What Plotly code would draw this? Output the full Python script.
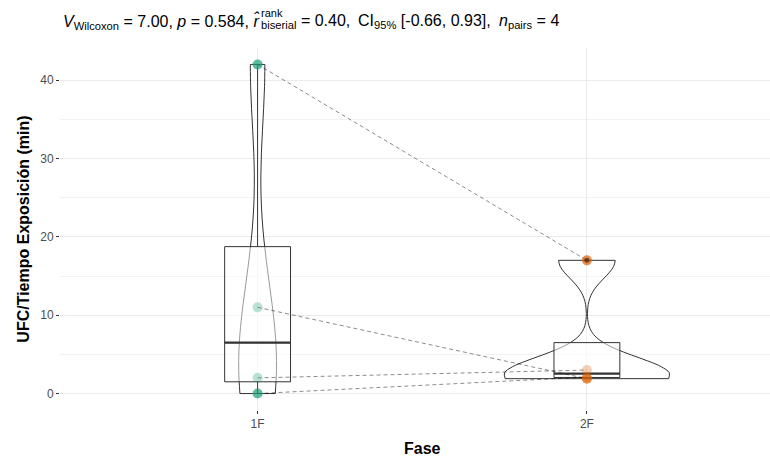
import numpy as np
import plotly.graph_objects as go

# ---- data ----
phases = ["1F", "2F"]
ufc_1f = [42.0, 11.0, 2.0, 0.0]
ufc_2f = [17.0, 1.9, 3.0, 2.1]
y_ticks = [0, 10, 20, 30, 40]
colors = ["#1B9E77", "#D95F02"]

groups = [ufc_1f, ufc_2f]
xpos = [1, 2]
LINE = "#333333"
PANEL_L, PANEL_T, PANEL_R, PANEL_B = 60, 48, 770, 410


def nrd0(v):
    v = np.asarray(v)
    q1, q3 = np.percentile(v, [25, 75])
    lo = min(np.std(v, ddof=1), (q3 - q1) / 1.34)
    return 0.9 * lo * len(v) ** (-0.2)


def kde_max(v, bw):
    v = np.asarray(v)
    g = np.linspace(v.min(), v.max(), 512)
    d = np.exp(-0.5 * ((g[:, None] - v[None, :]) / bw) ** 2).sum(1)
    return (d / (len(v) * bw * np.sqrt(2 * np.pi))).max()


def box_stats(v):
    v = np.asarray(v)
    q1, med, q3 = np.percentile(v, [25, 50, 75])
    iqr = q3 - q1
    inside = v[(v >= q1 - 1.5 * iqr) & (v <= q3 + 1.5 * iqr)]
    lf = min(q1, inside.min())
    uf = max(q3, inside.max())
    out = v[(v < q1 - 1.5 * iqr) | (v > q3 + 1.5 * iqr)]
    return q1, med, q3, lf, uf, out


# violin widths scaled by area (like ggplot scale="area")
bws = [nrd0(v) for v in groups]
kmax = [kde_max(v, b) for v, b in zip(groups, bws)]
vwidths = [0.5 * k / max(kmax) for k in kmax]

fig = go.Figure()

# boxes
for x, vals in zip(xpos, groups):
    q1, med, q3, lf, uf, out = box_stats(vals)
    fig.add_trace(go.Box(
        x=[x], q1=[q1], median=[med], q3=[q3], lowerfence=[lf], upperfence=[uf],
        width=0.2, whiskerwidth=0, boxpoints=False,
        fillcolor="rgba(255,255,255,0.5)", line=dict(color=LINE, width=1),
        showlegend=False, hoverinfo="skip"))

# violins
for i, (x, vals) in enumerate(zip(xpos, groups)):
    fig.add_trace(go.Violin(
        x=[x] * len(vals), y=vals, width=vwidths[i], bandwidth=bws[i],
        spanmode="hard", scalemode="width", scalegroup="g%d" % i,
        points=False, box_visible=False, meanline_visible=False,
        fillcolor="rgba(255,255,255,0.2)", line=dict(color=LINE, width=1),
        showlegend=False, hoverinfo="skip"))

# thick median lines
for x, vals in zip(xpos, groups):
    med = float(np.median(vals))
    fig.add_trace(go.Scatter(
        x=[x - 0.1, x + 0.1], y=[med, med], mode="lines",
        line=dict(color=LINE, width=2.2), showlegend=False, hoverinfo="skip"))

# paired dashed paths
for a, b in zip(ufc_1f, ufc_2f):
    fig.add_trace(go.Scatter(
        x=xpos, y=[a, b], mode="lines",
        line=dict(color="rgba(0,0,0,0.5)", width=0.9, dash="4px,3px"),
        showlegend=False, hoverinfo="skip"))

# points (lighter where the semi-transparent box covers them)
for x, vals, c in zip(xpos, groups, colors):
    q1, med, q3, lf, uf, out = box_stats(vals)
    op = [0.3 if q1 <= v <= q3 else 0.7 for v in vals]
    fig.add_trace(go.Scatter(
        x=[x] * len(vals), y=vals, mode="markers",
        marker=dict(color=c, size=10, opacity=op, line=dict(width=0)),
        showlegend=False, hoverinfo="skip"))
    if len(out):
        fig.add_trace(go.Scatter(
            x=[x] * len(out), y=out, mode="markers",
            marker=dict(color="rgba(0,0,0,0.5)", size=5),
            showlegend=False, hoverinfo="skip"))

title_a = "<i>V</i><sub>Wilcoxon</sub> = 7.00, <i>p</i> = 0.584, <i>r\u0302</i>"
title_b1 = "<sub>biserial</sub> = 0.40,"
title_b2 = "CI<sub>95%</sub> [-0.66, 0.93],"
title_b3 = "<i>n</i><sub>pairs</sub> = 4"
title_sup = "rank"


def px_ann(text, px, py, size, xanchor="left", yanchor="middle"):
    return dict(text=text, xref="paper", yref="paper", x=0, y=1,
                xshift=px - PANEL_L, yshift=PANEL_T - py,
                xanchor=xanchor, yanchor=yanchor, showarrow=False,
                font=dict(size=size, color="black"))


fig.update_layout(
    width=770, height=456,
    margin=dict(l=PANEL_L, r=770 - PANEL_R, t=PANEL_T, b=456 - PANEL_B),
    paper_bgcolor="white", plot_bgcolor="white",
    font=dict(family="Liberation Sans, Arial, sans-serif", color="#4D4D4D", size=12),
    xaxis=dict(range=[0.4, 2.556], tickvals=xpos, ticktext=phases,
               showgrid=True, gridcolor="#EBEBEB", gridwidth=1, zeroline=False,
               ticks="outside", ticklen=3, tickcolor=LINE, tickfont=dict(size=12, color="#4D4D4D"),
               showline=False),
    yaxis=dict(range=[-2.1, 44.1], tickvals=y_ticks,
               showgrid=True, gridcolor="#EBEBEB", gridwidth=1, zeroline=False,
               minor=dict(dtick=5, tick0=5, showgrid=True, gridcolor="#F2F2F2", gridwidth=1),
               ticks="outside", ticklen=3, tickcolor=LINE, tickfont=dict(size=12, color="#4D4D4D"),
               title=dict(text="<b>UFC/Tiempo Exposición (min)</b>", font=dict(size=16, color="black"),
                          standoff=6),
               showline=False),
    annotations=[
        px_ann(title_a, 61, 21, 16),
        px_ann(title_b1, 259, 21, 16),
        px_ann(title_b2, 356, 21, 16),
        px_ann(title_b3, 497, 21, 16),
        px_ann(title_sup, 259, 13, 11),
        dict(text="<b>Fase</b>", xref="paper", yref="paper", x=(422 - PANEL_L) / (PANEL_R - PANEL_L),
             y=0, yshift=-(448 - PANEL_B), xanchor="center", yanchor="middle", showarrow=False,
             font=dict(size=16, color="black")),
    ],
)

fig.write_html("out.html")
